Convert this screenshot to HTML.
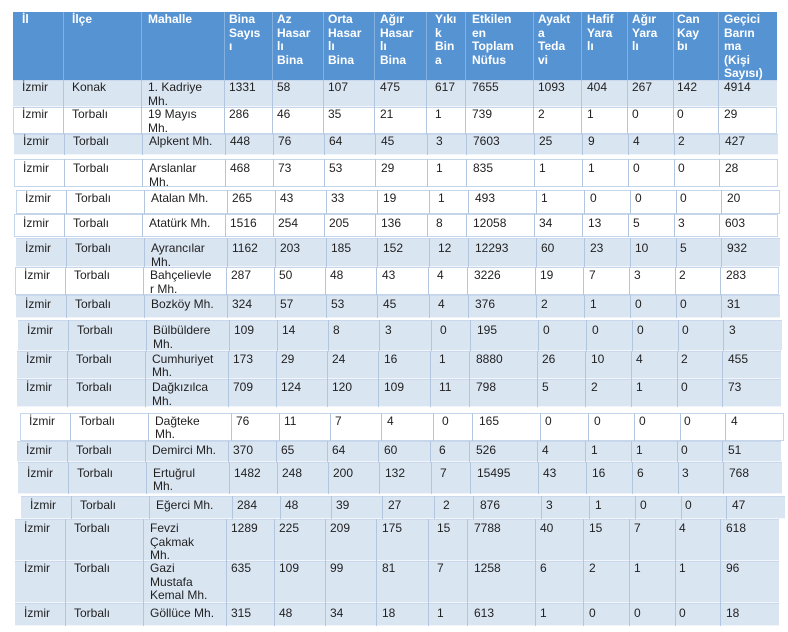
<!DOCTYPE html>
<html>
<head>
<meta charset="utf-8">
<style>
html,body{margin:0;padding:0;}
body{width:788px;height:632px;background:#fff;position:relative;overflow:hidden;font-family:"Liberation Sans",Arial,sans-serif;}
.r{position:absolute;width:764px;overflow:hidden;}
.r>div{position:absolute;top:0;bottom:0;box-sizing:border-box;border-left:1px solid #b2c6e0;font-size:12px;line-height:13.5px;color:#1f1f1f;white-space:nowrap;overflow:hidden;}
.r>div:nth-child(1){left:0;width:50px;border-left:none;padding-left:9px;}
.r>div:nth-child(2){left:50px;width:78px;padding-left:8px;}
.r>div:nth-child(3){left:128px;width:83px;padding-left:6px;}
.r>div:nth-child(4){left:211px;width:48px;padding-left:4px;}
.r>div:nth-child(5){left:259px;width:51px;padding-left:4px;}
.r>div:nth-child(6){left:310px;width:51px;padding-left:4px;}
.r>div:nth-child(7){left:361px;width:52px;padding-left:5px;}
.r>div:nth-child(8){left:413px;width:39px;padding-left:8px;}
.r>div:nth-child(9){left:452px;width:68px;padding-left:6px;}
.r>div:nth-child(10){left:520px;width:48px;padding-left:4px;}
.r>div:nth-child(11){left:568px;width:46px;padding-left:5px;}
.r>div:nth-child(12){left:614px;width:46px;padding-left:4px;}
.r>div:nth-child(13){left:660px;width:45px;padding-left:3px;}
.r>div:nth-child(14){left:705px;width:59px;padding-left:5px;}
.h{background:#5593d3;}
.h>div{color:#fff;font-weight:bold;border-left-color:rgba(255,255,255,0.28);padding-top:1px;}
.b{background:#dae5f2;box-shadow:inset 0 -1px 0 #f2f6fb, inset 0 1px 0 #c9d8ec;}
.w{background:#fff;box-shadow:inset 0 0 0 1px #c5d5ea;}
</style>
</head>
<body>

<div class="r h" style="top:12px;left:13px;height:68px;">
<div>İl</div><div>İlçe</div><div>Mahalle</div><div>Bina<br>Sayıs<br>ı</div><div>Az<br>Hasar<br>lı<br>Bina</div><div>Orta<br>Hasar<br>lı<br>Bina</div><div>Ağır<br>Hasar<br>lı<br>Bina</div><div>Yıkı<br>k<br>Bin<br>a</div><div>Etkilen<br>en<br>Toplam<br>Nüfus</div><div>Ayakt<br>a<br>Teda<br>vi</div><div>Hafif<br>Yara<br>lı</div><div>Ağır<br>Yara<br>lı</div><div>Can<br>Kay<br>bı</div><div>Geçici<br>Barın<br>ma<br>(Kişi<br>Sayısı)</div>
</div>

<div class="r b" style="top:80px;left:13px;height:27px;">
<div style="padding-top:1px">İzmir</div><div style="padding-top:1px">Konak</div><div style="padding-top:1px">1. Kadriye<br>Mh.</div><div style="padding-top:1px">1331</div><div style="padding-top:1px">58</div><div style="padding-top:1px">107</div><div style="padding-top:1px">475</div><div style="padding-top:1px">617</div><div style="padding-top:1px">7655</div><div style="padding-top:1px">1093</div><div style="padding-top:1px">404</div><div style="padding-top:1px">267</div><div style="padding-top:1px">142</div><div style="padding-top:1px">4914</div>
</div>

<div class="r w" style="top:107px;left:13px;height:27px;">
<div style="padding-top:1px">İzmir</div><div style="padding-top:1px">Torbalı</div><div style="padding-top:1px">19 Mayıs<br>Mh.</div><div style="padding-top:1px">286</div><div style="padding-top:1px">46</div><div style="padding-top:1px">35</div><div style="padding-top:1px">21</div><div style="padding-top:1px">1</div><div style="padding-top:1px">739</div><div style="padding-top:1px">2</div><div style="padding-top:1px">1</div><div style="padding-top:1px">0</div><div style="padding-top:1px">0</div><div style="padding-top:1px">29</div>
</div>

<div class="r b" style="top:134px;left:14px;height:21px;">
<div style="padding-top:1px">İzmir</div><div style="padding-top:1px">Torbalı</div><div style="padding-top:1px">Alpkent Mh.</div><div style="padding-top:1px">448</div><div style="padding-top:1px">76</div><div style="padding-top:1px">64</div><div style="padding-top:1px">45</div><div style="padding-top:1px">3</div><div style="padding-top:1px">7603</div><div style="padding-top:1px">25</div><div style="padding-top:1px">9</div><div style="padding-top:1px">4</div><div style="padding-top:1px">2</div><div style="padding-top:1px">427</div>
</div>

<div class="r w" style="top:159px;left:14px;height:28px;">
<div style="padding-top:3px">İzmir</div><div style="padding-top:3px">Torbalı</div><div style="padding-top:3px">Arslanlar<br>Mh.</div><div style="padding-top:3px">468</div><div style="padding-top:3px">73</div><div style="padding-top:3px">53</div><div style="padding-top:3px">29</div><div style="padding-top:3px">1</div><div style="padding-top:3px">835</div><div style="padding-top:3px">1</div><div style="padding-top:3px">1</div><div style="padding-top:3px">0</div><div style="padding-top:3px">0</div><div style="padding-top:3px">28</div>
</div>

<div class="r w" style="top:190px;left:16px;height:24px;">
<div style="padding-top:2px">İzmir</div><div style="padding-top:2px">Torbalı</div><div style="padding-top:2px">Atalan Mh.</div><div style="padding-top:2px">265</div><div style="padding-top:2px">43</div><div style="padding-top:2px">33</div><div style="padding-top:2px">19</div><div style="padding-top:2px">1</div><div style="padding-top:2px">493</div><div style="padding-top:2px">1</div><div style="padding-top:2px">0</div><div style="padding-top:2px">0</div><div style="padding-top:2px">0</div><div style="padding-top:2px">20</div>
</div>

<div class="r w" style="top:214px;left:14px;height:23px;">
<div style="padding-top:3px">İzmir</div><div style="padding-top:3px">Torbalı</div><div style="padding-top:3px">Atatürk Mh.</div><div style="padding-top:3px">1516</div><div style="padding-top:3px">254</div><div style="padding-top:3px">205</div><div style="padding-top:3px">136</div><div style="padding-top:3px">8</div><div style="padding-top:3px">12058</div><div style="padding-top:3px">34</div><div style="padding-top:3px">13</div><div style="padding-top:3px">5</div><div style="padding-top:3px">3</div><div style="padding-top:3px">603</div>
</div>

<div class="r b" style="top:238px;left:16px;height:29px;">
<div style="padding-top:4px">İzmir</div><div style="padding-top:4px">Torbalı</div><div style="padding-top:4px">Ayrancılar<br>Mh.</div><div style="padding-top:4px">1162</div><div style="padding-top:4px">203</div><div style="padding-top:4px">185</div><div style="padding-top:4px">152</div><div style="padding-top:4px">12</div><div style="padding-top:4px">12293</div><div style="padding-top:4px">60</div><div style="padding-top:4px">23</div><div style="padding-top:4px">10</div><div style="padding-top:4px">5</div><div style="padding-top:4px">932</div>
</div>

<div class="r w" style="top:267px;left:15px;height:28px;">
<div style="padding-top:2px">İzmir</div><div style="padding-top:2px">Torbalı</div><div style="padding-top:2px">Bahçelievle<br>r Mh.</div><div style="padding-top:2px">287</div><div style="padding-top:2px">50</div><div style="padding-top:2px">48</div><div style="padding-top:2px">43</div><div style="padding-top:2px">4</div><div style="padding-top:2px">3226</div><div style="padding-top:2px">19</div><div style="padding-top:2px">7</div><div style="padding-top:2px">3</div><div style="padding-top:2px">2</div><div style="padding-top:2px">283</div>
</div>

<div class="r b" style="top:295px;left:16px;height:23px;">
<div style="padding-top:3px">İzmir</div><div style="padding-top:3px">Torbalı</div><div style="padding-top:3px">Bozköy Mh.</div><div style="padding-top:3px">324</div><div style="padding-top:3px">57</div><div style="padding-top:3px">53</div><div style="padding-top:3px">45</div><div style="padding-top:3px">4</div><div style="padding-top:3px">376</div><div style="padding-top:3px">2</div><div style="padding-top:3px">1</div><div style="padding-top:3px">0</div><div style="padding-top:3px">0</div><div style="padding-top:3px">31</div>
</div>

<div class="r b" style="top:320px;left:18px;height:31px;">
<div style="padding-top:4px">İzmir</div><div style="padding-top:4px">Torbalı</div><div style="padding-top:4px">Bülbüldere<br>Mh.</div><div style="padding-top:4px">109</div><div style="padding-top:4px">14</div><div style="padding-top:4px">8</div><div style="padding-top:4px">3</div><div style="padding-top:4px">0</div><div style="padding-top:4px">195</div><div style="padding-top:4px">0</div><div style="padding-top:4px">0</div><div style="padding-top:4px">0</div><div style="padding-top:4px">0</div><div style="padding-top:4px">3</div>
</div>

<div class="r b" style="top:351px;left:17px;height:28px;">
<div style="padding-top:1.5px">İzmir</div><div style="padding-top:1.5px">Torbalı</div><div style="padding-top:1.5px">Cumhuriyet<br>Mh.</div><div style="padding-top:1.5px">173</div><div style="padding-top:1.5px">29</div><div style="padding-top:1.5px">24</div><div style="padding-top:1.5px">16</div><div style="padding-top:1.5px">1</div><div style="padding-top:1.5px">8880</div><div style="padding-top:1.5px">26</div><div style="padding-top:1.5px">10</div><div style="padding-top:1.5px">4</div><div style="padding-top:1.5px">2</div><div style="padding-top:1.5px">455</div>
</div>

<div class="r b" style="top:379px;left:17px;height:28px;">
<div style="padding-top:2px">İzmir</div><div style="padding-top:2px">Torbalı</div><div style="padding-top:2px">Dağkızılca<br>Mh.</div><div style="padding-top:2px">709</div><div style="padding-top:2px">124</div><div style="padding-top:2px">120</div><div style="padding-top:2px">109</div><div style="padding-top:2px">11</div><div style="padding-top:2px">798</div><div style="padding-top:2px">5</div><div style="padding-top:2px">2</div><div style="padding-top:2px">1</div><div style="padding-top:2px">0</div><div style="padding-top:2px">73</div>
</div>

<div class="r w" style="top:413px;left:20px;height:28px;">
<div style="padding-top:1.5px">İzmir</div><div style="padding-top:1.5px">Torbalı</div><div style="padding-top:1.5px">Dağteke<br>Mh.</div><div style="padding-top:1.5px">76</div><div style="padding-top:1.5px">11</div><div style="padding-top:1.5px">7</div><div style="padding-top:1.5px">4</div><div style="padding-top:1.5px">0</div><div style="padding-top:1.5px">165</div><div style="padding-top:1.5px">0</div><div style="padding-top:1.5px">0</div><div style="padding-top:1.5px">0</div><div style="padding-top:1.5px">0</div><div style="padding-top:1.5px">4</div>
</div>

<div class="r b" style="top:441px;left:17px;height:21px;">
<div style="padding-top:2.5px">İzmir</div><div style="padding-top:2.5px">Torbalı</div><div style="padding-top:2.5px">Demirci Mh.</div><div style="padding-top:2.5px">370</div><div style="padding-top:2.5px">65</div><div style="padding-top:2.5px">64</div><div style="padding-top:2.5px">60</div><div style="padding-top:2.5px">6</div><div style="padding-top:2.5px">526</div><div style="padding-top:2.5px">4</div><div style="padding-top:2.5px">1</div><div style="padding-top:2.5px">1</div><div style="padding-top:2.5px">0</div><div style="padding-top:2.5px">51</div>
</div>

<div class="r b" style="top:462px;left:18px;height:32px;">
<div style="padding-top:4.5px">İzmir</div><div style="padding-top:4.5px">Torbalı</div><div style="padding-top:4.5px">Ertuğrul<br>Mh.</div><div style="padding-top:4.5px">1482</div><div style="padding-top:4.5px">248</div><div style="padding-top:4.5px">200</div><div style="padding-top:4.5px">132</div><div style="padding-top:4.5px">7</div><div style="padding-top:4.5px">15495</div><div style="padding-top:4.5px">43</div><div style="padding-top:4.5px">16</div><div style="padding-top:4.5px">6</div><div style="padding-top:4.5px">3</div><div style="padding-top:4.5px">768</div>
</div>

<div class="r b" style="top:496px;left:21px;height:23px;">
<div style="padding-top:3px">İzmir</div><div style="padding-top:3px">Torbalı</div><div style="padding-top:3px">Eğerci Mh.</div><div style="padding-top:3px">284</div><div style="padding-top:3px">48</div><div style="padding-top:3px">39</div><div style="padding-top:3px">27</div><div style="padding-top:3px">2</div><div style="padding-top:3px">876</div><div style="padding-top:3px">3</div><div style="padding-top:3px">1</div><div style="padding-top:3px">0</div><div style="padding-top:3px">0</div><div style="padding-top:3px">47</div>
</div>

<div class="r b" style="top:519px;left:15px;height:42px;">
<div style="padding-top:3px">İzmir</div><div style="padding-top:3px">Torbalı</div><div style="padding-top:3px">Fevzi<br>Çakmak<br>Mh.</div><div style="padding-top:3px">1289</div><div style="padding-top:3px">225</div><div style="padding-top:3px">209</div><div style="padding-top:3px">175</div><div style="padding-top:3px">15</div><div style="padding-top:3px">7788</div><div style="padding-top:3px">40</div><div style="padding-top:3px">15</div><div style="padding-top:3px">7</div><div style="padding-top:3px">4</div><div style="padding-top:3px">618</div>
</div>

<div class="r b" style="top:561px;left:15px;height:42px;">
<div style="padding-top:1px">İzmir</div><div style="padding-top:1px">Torbalı</div><div style="padding-top:1px">Gazi<br>Mustafa<br>Kemal Mh.</div><div style="padding-top:1px">635</div><div style="padding-top:1px">109</div><div style="padding-top:1px">99</div><div style="padding-top:1px">81</div><div style="padding-top:1px">7</div><div style="padding-top:1px">1258</div><div style="padding-top:1px">6</div><div style="padding-top:1px">2</div><div style="padding-top:1px">1</div><div style="padding-top:1px">1</div><div style="padding-top:1px">96</div>
</div>

<div class="r b" style="top:603px;left:15px;height:23px;">
<div style="padding-top:3.5px">İzmir</div><div style="padding-top:3.5px">Torbalı</div><div style="padding-top:3.5px">Göllüce Mh.</div><div style="padding-top:3.5px">315</div><div style="padding-top:3.5px">48</div><div style="padding-top:3.5px">34</div><div style="padding-top:3.5px">18</div><div style="padding-top:3.5px">1</div><div style="padding-top:3.5px">613</div><div style="padding-top:3.5px">1</div><div style="padding-top:3.5px">0</div><div style="padding-top:3.5px">0</div><div style="padding-top:3.5px">0</div><div style="padding-top:3.5px">18</div>
</div>

</body>
</html>
